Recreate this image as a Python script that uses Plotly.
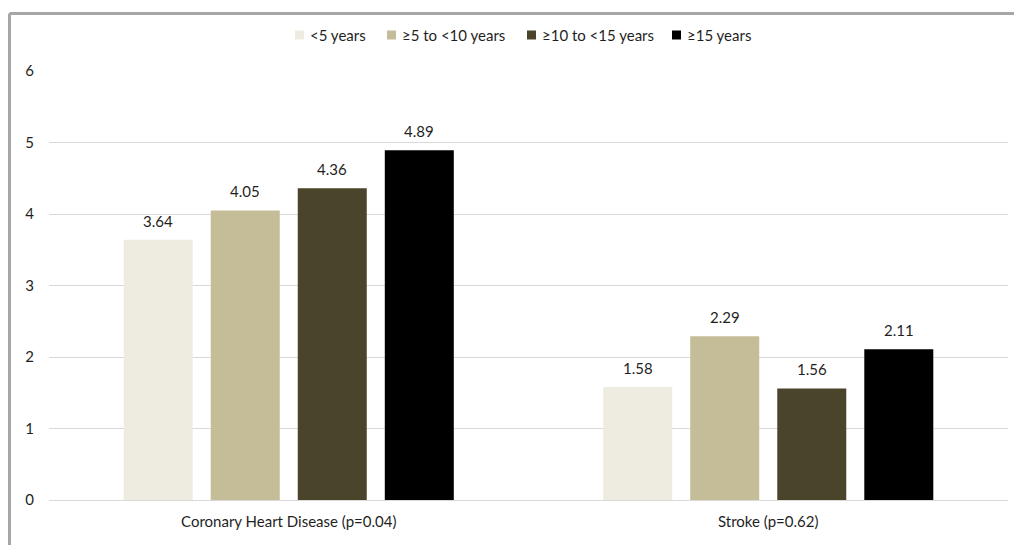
import plotly.graph_objects as go

categories = ["Coronary Heart Disease (p=0.04)", "Stroke (p=0.62)"]
series_names = ["<5 years", "≥5 to <10 years", "≥10 to <15 years", "≥15 years"]
values_lt5 = [3.64, 1.58]
values_5to10 = [4.05, 2.29]
values_10to15 = [4.36, 1.56]
values_ge15 = [4.89, 2.11]
series_values = [values_lt5, values_5to10, values_10to15, values_ge15]
colors = ["#EEECE1", "#C4BD97", "#4A452A", "#000000"]
y_ticks = [0, 1, 2, 3, 4, 5, 6]

W, H = 1014, 545
ML, MR, MT, MB = 49, 6, 71, 45
BARGAP = 0.274
GROUPGAP = 0.207
FONT = "Lato, Calibri, sans-serif"
FS = 15
TXT = "#1f1f1f"

fig = go.Figure()
for name, vals, col in zip(series_names, series_values, colors):
    fig.add_trace(go.Bar(
        x=categories, y=vals, name=name, showlegend=False,
        marker=dict(color=col, line=dict(width=0)),
    ))

plot_w = W - ML - MR
plot_h = H - MT - MB
slot_px = plot_w / len(categories) * (1 - BARGAP) / len(series_names)
n = len(series_names)
for i, vals in enumerate(series_values):
    for c, v in zip(categories, vals):
        fig.add_annotation(
            x=c, y=v, text=f"{v:.2f}", showarrow=False,
            xshift=(i - (n - 1) / 2) * slot_px, yshift=19,
            font=dict(family=FONT, size=FS, color=TXT),
        )

def px_x(p):
    return (p - ML) / plot_w
def px_y(p):
    return (H - MB - p) / plot_h

# legend (drawn manually to match the compact Excel-style layout)
legend_square_px = [295, 387, 527, 672]
legend_y_px = 35
for name, col, sx in zip(series_names, colors, legend_square_px):
    fig.add_shape(type="rect", xref="paper", yref="paper",
                  x0=px_x(sx), x1=px_x(sx + 9),
                  y0=px_y(legend_y_px - 4.5), y1=px_y(legend_y_px + 4.5),
                  fillcolor=col, line=dict(width=0))
    fig.add_annotation(xref="paper", yref="paper", x=px_x(sx + 13), y=px_y(legend_y_px),
                       xanchor="left", yanchor="middle", text=name, showarrow=False,
                       font=dict(family=FONT, size=FS, color=TXT))

# outer frame (gray left and top edges of the cropped chart box)
frame = dict(color="#A6A6A6", width=3)
fig.add_shape(type="line", xref="paper", yref="paper",
              x0=px_x(9.5), x1=px_x(W + 5), y0=px_y(13.5), y1=px_y(13.5), line=frame)
fig.add_shape(type="line", xref="paper", yref="paper",
              x0=px_x(9.5), x1=px_x(9.5), y0=px_y(13.5), y1=px_y(H + 5), line=frame)

fig.update_layout(
    width=W, height=H,
    margin=dict(l=ML, r=MR, t=MT, b=MB, autoexpand=False),
    paper_bgcolor="white", plot_bgcolor="white",
    barmode="group", bargap=BARGAP, bargroupgap=GROUPGAP,
    font=dict(family=FONT, size=FS, color=TXT),
    showlegend=False,
    xaxis=dict(showgrid=False, showline=True, linecolor="#D9D9D9", linewidth=1,
               ticks="", ticklabelstandoff=8,
               tickfont=dict(family=FONT, size=FS, color=TXT)),
    yaxis=dict(range=[0, 6], tickvals=y_ticks, showgrid=True, gridcolor="#D9D9D9",
               gridwidth=1, zeroline=True, zerolinecolor="#D9D9D9", zerolinewidth=1,
               showline=False, ticks="", ticklabelstandoff=14,
               tickfont=dict(family=FONT, size=FS, color=TXT)),
)

fig.write_html("out.html")
